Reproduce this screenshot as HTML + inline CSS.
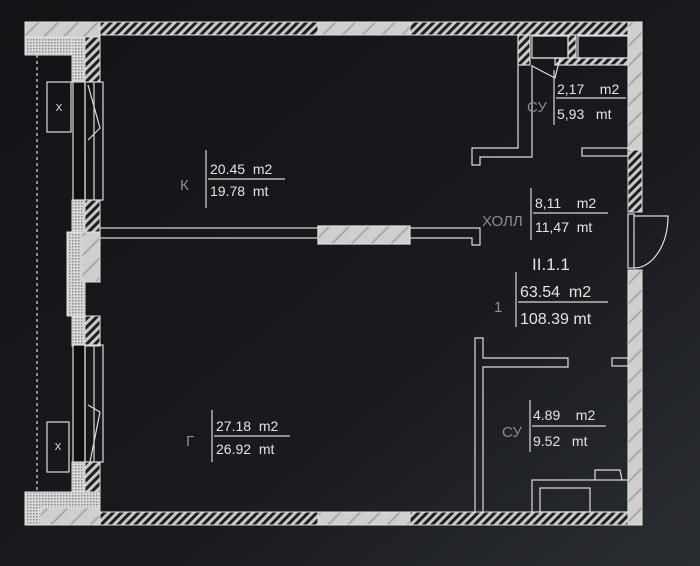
<!DOCTYPE html>
<html><head><meta charset="utf-8"><style>
html,body{margin:0;padding:0;background:#16181b;}
svg{display:block}
text{font-family:"Liberation Sans","DejaVu Sans",sans-serif;}
</style></head><body>
<svg width="700" height="566" viewBox="0 0 700 566" xmlns="http://www.w3.org/2000/svg">
<defs>
<linearGradient id="bg" x1="0" y1="0" x2="1" y2="1">
<stop offset="0" stop-color="#111316"/><stop offset="0.6" stop-color="#181a1e"/><stop offset="1" stop-color="#2a2d31"/>
</linearGradient>
<pattern id="hatch" width="6" height="6" patternUnits="userSpaceOnUse" patternTransform="rotate(45)">
<rect width="6" height="6" fill="#1c1e21"/><rect width="3" height="6" fill="#c8c8c8"/>
</pattern>
<pattern id="light" width="14" height="14" patternUnits="userSpaceOnUse" patternTransform="rotate(45)">
<rect width="14" height="14" fill="#cfcfcf"/><rect width="2" height="14" fill="#a9a9a9"/>
</pattern>
<pattern id="dots" width="3" height="3" patternUnits="userSpaceOnUse">
<rect width="3" height="3" fill="#d8d8d8"/><rect width="1.5" height="1.5" fill="#8a8a8a"/>
</pattern>
</defs>
<rect width="700" height="566" fill="url(#bg)"/>
<g stroke="#e0e0e0" stroke-width="1">
<!-- top wall -->
<rect x="100" y="22" width="218" height="13" fill="url(#hatch)"/>
<rect x="318" y="22" width="92" height="13" fill="url(#light)"/>
<rect x="410" y="22" width="220" height="13" fill="url(#hatch)"/>
<!-- right wall -->
<rect x="628" y="22" width="14" height="190" fill="url(#light)"/>
<rect x="628" y="150" width="14" height="62" fill="url(#hatch)"/>
<rect x="628" y="270" width="14" height="255" fill="url(#light)"/>
<!-- bottom wall -->
<rect x="100" y="512" width="218" height="13" fill="url(#hatch)"/>
<rect x="318" y="512" width="92" height="13" fill="url(#light)"/>
<rect x="410" y="512" width="218" height="13" fill="url(#hatch)"/>
<!-- left top structure -->
<rect x="25" y="22" width="75" height="15" fill="url(#light)"/>
<rect x="25" y="37" width="47" height="18" fill="url(#dots)"/>
<rect x="72" y="37" width="13" height="45" fill="url(#dots)"/>
<rect x="85" y="37" width="15" height="45" fill="url(#hatch)"/>
<!-- pier -->
<rect x="67" y="232" width="18" height="84" fill="url(#dots)"/>
<rect x="82" y="232" width="18" height="50" fill="url(#light)"/>
<rect x="85" y="316" width="15" height="30" fill="url(#hatch)"/>
<rect x="72" y="200" width="13" height="32" fill="url(#dots)"/>
<rect x="85" y="200" width="15" height="32" fill="url(#hatch)"/>
<rect x="72" y="316" width="13" height="30" fill="url(#dots)"/>
<!-- bottom left -->
<rect x="72" y="462" width="13" height="30" fill="url(#dots)"/>
<rect x="85" y="462" width="15" height="30" fill="url(#hatch)"/>
<rect x="25" y="492" width="75" height="33" fill="url(#dots)"/>
<rect x="40" y="508" width="60" height="17" fill="url(#light)"/>
</g>
<g stroke="#dcdcdc" stroke-width="1.2" fill="none">
<!-- windows -->
<rect x="73" y="82" width="12" height="118" fill="#0e0f11"/>
<rect x="85" y="82" width="18" height="118"/>
<line x1="94" y1="82" x2="94" y2="200"/>
<polyline points="88,85 100,128 88,140"/>
<rect x="73" y="345" width="12" height="117" fill="#0e0f11"/>
<rect x="85" y="345" width="18" height="117"/>
<line x1="94" y1="345" x2="94" y2="462"/>
<polyline points="88,405 100,412 90,462"/>
<!-- X boxes -->
<rect x="47" y="82" width="24" height="50"/>
<rect x="47" y="422" width="22" height="50"/>
<!-- dashed rail -->
<line x1="37" y1="55" x2="37" y2="492" stroke-dasharray="3 3"/>
<!-- interior partition -->
<rect x="100" y="228" width="218" height="10"/>
<rect x="318" y="226" width="92" height="18" fill="url(#light)" stroke="#e0e0e0"/>
<polyline points="410,228 480,228 480,245 472,245 472,238 410,238"/>
<!-- lower partition -->
<polyline points="475,512 475,338 483,338 483,358 568,358 568,367 483,367 483,512"/>
<rect x="612" y="358" width="16" height="8"/>
<!-- upper bathroom -->
<rect x="518" y="35" width="12" height="30" fill="url(#hatch)"/>
<rect x="568" y="35" width="8" height="30" fill="url(#hatch)"/>
<rect x="555" y="58" width="73" height="7" fill="url(#hatch)"/>
<rect x="532" y="36" width="36" height="22"/>
<rect x="578" y="36" width="50" height="22"/>
<polyline points="518,65 518,148 472,148 472,165 480,165 480,157 532,157 532,65"/>
<rect x="582" y="148" width="46" height="8"/>
<polyline points="532,58 560,58 555,78 532,66"/>
<!-- door -->
<rect x="628" y="214" width="6" height="54"/>
<path d="M634 216 L668 216 A34 52 0 0 1 634 268"/>
<!-- bath fixtures -->
<rect x="532" y="480" width="96" height="32"/>
<rect x="540" y="488" width="50" height="24"/>
<polyline points="595,480 595,470 620,470 622,480"/>
</g>
<g fill="#e8e8e8" font-size="10" text-anchor="middle">
<text x="59" y="111">X</text><text x="58" y="450">X</text>
</g>
<!-- labels -->
<g stroke="#d8d8d8" stroke-width="1.2">
<line x1="206" y1="150" x2="206" y2="208"/><line x1="208" y1="179" x2="285" y2="179"/>
<line x1="212" y1="410" x2="212" y2="462"/><line x1="214" y1="436" x2="290" y2="436"/>
<line x1="554" y1="70" x2="554" y2="125"/><line x1="556" y1="98" x2="626" y2="98"/>
<line x1="531" y1="188" x2="531" y2="240"/><line x1="533" y1="213" x2="608" y2="213"/>
<line x1="516" y1="272" x2="516" y2="327"/><line x1="518" y1="302" x2="608" y2="302"/>
<line x1="530" y1="400" x2="530" y2="452"/><line x1="532" y1="426" x2="606" y2="426"/>
</g>
<g fill="#e4e4e4" font-size="14">
<text x="210" y="174">20.45&#160;&#160;m2</text><text x="210" y="196">19.78&#160;&#160;mt</text>
<text x="216" y="431">27.18&#160;&#160;m2</text><text x="216" y="454">26.92&#160;&#160;mt</text>
<text x="557" y="94">2,17&#160;&#160;&#160;&#160;m2</text><text x="557" y="119">5,93&#160;&#160;&#160;mt</text>
<text x="535" y="208">8,11&#160;&#160;&#160;&#160;m2</text><text x="535" y="232">11,47&#160;&#160;mt</text>
<text x="520" y="297" font-size="16">63.54&#160;&#160;m2</text><text x="520" y="324" font-size="16">108.39 mt</text>
<text x="533" y="420">4.89&#160;&#160;&#160;&#160;m2</text><text x="533" y="446">9.52&#160;&#160;&#160;mt</text>
<text x="532" y="270" font-family="Liberation Serif,serif" font-size="17">II.1.1</text>
</g>
<g fill="#8a8c90" font-size="15">
<text x="180" y="190">К</text><text x="186" y="446">Г</text>
<text x="527" y="112">СУ</text><text x="482" y="226">ХОЛЛ</text>
<text x="494" y="312">1</text><text x="502" y="437">СУ</text>
</g>
</svg>
</body></html>
